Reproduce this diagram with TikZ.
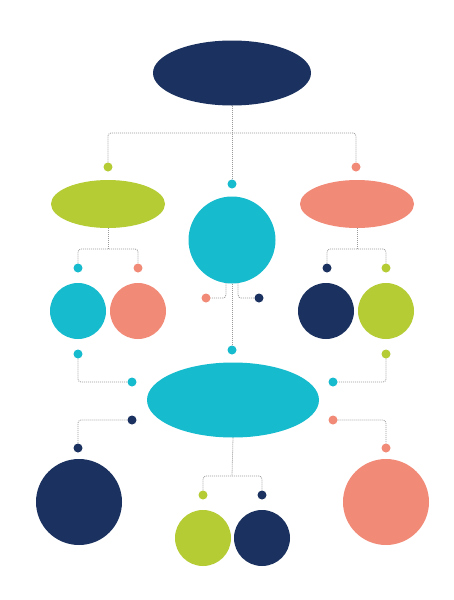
\documentclass[tikz,border=0pt]{standalone}
\usetikzlibrary{shapes.geometric}
\definecolor{navy}{HTML}{1B3260}
\definecolor{cyanc}{HTML}{17BBCE}
\definecolor{lime}{HTML}{B5CC34}
\definecolor{salmon}{HTML}{F28A78}
\definecolor{lineg}{HTML}{9A9A9A}
\begin{document}
\begin{tikzpicture}[x=1pt,y=-1pt,
  ell/.style={ellipse,draw=none,inner sep=0pt},
  circ/.style={circle,draw=none,inner sep=0pt,minimum size=#1},
  dotn/.style={circle,fill=#1,draw=none,inner sep=0pt,minimum size=9pt},
  conn/.style={draw=lineg,line width=0.8pt,dash pattern=on 1pt off 1pt,rounded corners=3pt}]
\useasboundingbox[fill=white] (0,0) rectangle (454,600);
% main shapes
\node[ell,fill=navy,minimum width=158pt,minimum height=65pt] (top) at (232,73) {};
\node[ell,fill=lime,minimum width=114pt,minimum height=48pt] (gE) at (108,204) {};
\node[circ=87pt,fill=cyanc] (cC) at (232,240) {};
\node[ell,fill=salmon,minimum width=114pt,minimum height=48pt] (sE) at (357,204) {};
\node[circ=56pt,fill=cyanc] (cL1) at (78,311) {};
\node[circ=56pt,fill=salmon] (cL2) at (138,311) {};
\node[circ=56pt,fill=navy] (cR1) at (326,311) {};
\node[circ=56pt,fill=lime] (cR2) at (386,311) {};
\node[ell,fill=cyanc,minimum width=172pt,minimum height=75pt] (bE) at (233,400) {};
\node[circ=86pt,fill=navy] (bL) at (79,502) {};
\node[circ=86pt,fill=salmon] (bR) at (386,502) {};
\node[circ=56pt,fill=lime] (bP1) at (203,538) {};
\node[circ=56pt,fill=navy] (bP2) at (262,538) {};
% dots
\node[dotn=lime] (dG) at (108,167) {};
\node[dotn=cyanc] (dC) at (232,184) {};
\node[dotn=salmon] (dS) at (356,167) {};
\node[dotn=cyanc] (dL1) at (78,268) {};
\node[dotn=salmon] (dL2) at (138,268) {};
\node[dotn=navy] (dR1) at (327,268) {};
\node[dotn=lime] (dR2) at (386,268) {};
\node[dotn=salmon] (dM1) at (206,298) {};
\node[dotn=navy] (dM2) at (259,298) {};
\node[dotn=cyanc] (dM3) at (232,350) {};
\node[dotn=cyanc] (dA) at (78,354) {};
\node[dotn=cyanc] (dB) at (132,382) {};
\node[dotn=lime] (dC2) at (386,354) {};
\node[dotn=cyanc] (dD) at (333,382) {};
\node[dotn=navy] (dE) at (132,420) {};
\node[dotn=navy] (dF) at (78,448) {};
\node[dotn=salmon] (dG2) at (333,420) {};
\node[dotn=salmon] (dH) at (386,448) {};
\node[dotn=lime] (dI) at (203,495) {};
\node[dotn=navy] (dJ) at (262,495) {};
% junctions
\coordinate (j1) at (232,133);
\coordinate (j2) at (108,249);
\coordinate (j3) at (357,249);
\coordinate (j4) at (232,476);
% connectors
\draw[conn] (top.south) -- (dC.north);
\draw[conn] (dG.north) |- (j1) -| (dS.north);
\draw[conn] (gE.south) -- (j2);
\draw[conn] (dL1.north) |- (j2) -| (dL2.north);
\draw[conn] (sE.south) -- (j3);
\draw[conn] (dR1.north) |- (j3) -| (dR2.north);
\draw[conn] (cC.south) -- (dM3.north);
\draw[conn] (cC.-98) |- (dM1.east);
\draw[conn] (cC.-82) |- (dM2.west);
\draw[conn] (dA.south) |- (dB.west);
\draw[conn] (dC2.south) |- (dD.east);
\draw[conn] (dE.west) -| (dF.north);
\draw[conn] (dG2.east) -| (dH.north);
\draw[conn] (bE.south) -- (j4);
\draw[conn] (dI.north) |- (j4) -| (dJ.north);
\end{tikzpicture}
\end{document}
